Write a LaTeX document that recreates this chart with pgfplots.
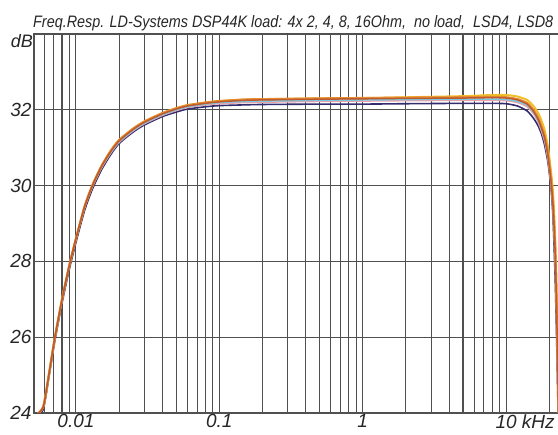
\documentclass[border=0pt]{standalone}
\usepackage{fontspec}
\setmainfont{Liberation Sans}
\usepackage{graphicx}
\usepackage{pgfplots}
\usepackage{pgfplotstable}
\pgfplotsset{compat=1.18}
\definecolor{cY}{RGB}{240,190,40}
\definecolor{cO}{RGB}{230,140,50}
\definecolor{cB}{RGB}{190,90,45}
\definecolor{cC}{RGB}{120,200,225}
\definecolor{cP}{RGB}{235,160,170}
\definecolor{cN}{RGB}{50,45,110}
\definecolor{gridc}{RGB}{80,80,80}
\pgfplotstableread{
f O Y B C P N
0.0051 23.9 23.9 23.9 23.9 23.9 23.85
0.0059 24.15 24.15 24.15 24.15 24.15 24.08
0.0065 25.05 25.05 25.05 25.05 25.05 24.97
0.0071 25.95 25.95 25.95 25.95 25.95 25.86
0.008 27.0 27.0 27.0 27.0 27.0 26.9
0.009 27.9 27.9 27.9 27.9 27.9 27.8
0.010 28.6 28.6 28.6 28.6 28.6 28.5
0.0115 29.45 29.45 29.45 29.45 29.43 29.35
0.013 30.0 30.0 29.99 29.98 29.96 29.9
0.015 30.5 30.5 30.49 30.47 30.45 30.4
0.0175 30.92 30.92 30.90 30.88 30.86 30.82
0.020 31.2 31.2 31.18 31.16 31.14 31.11
0.025 31.5 31.5 31.48 31.46 31.44 31.41
0.030 31.69 31.69 31.67 31.65 31.63 31.60
0.040 31.91 31.91 31.89 31.87 31.85 31.82
0.050 32.04 32.04 32.02 32.00 31.98 31.94
0.060 32.12 32.12 32.10 32.08 32.06 32.02
0.080 32.19 32.19 32.17 32.15 32.13 32.08
0.100 32.23 32.23 32.21 32.19 32.16 32.11
0.150 32.27 32.27 32.25 32.22 32.19 32.13
0.200 32.28 32.28 32.26 32.23 32.20 32.14
0.500 32.30 32.30 32.28 32.25 32.22 32.15
1 32.31 32.31 32.29 32.26 32.23 32.15
2 32.32 32.33 32.30 32.27 32.24 32.16
5 32.33 32.36 32.31 32.28 32.25 32.17
8 32.34 32.39 32.32 32.28 32.25 32.17
10 32.33 32.39 32.31 32.27 32.24 32.16
12 32.28 32.35 32.26 32.22 32.19 32.10
14 32.18 32.26 32.15 32.12 32.08 31.97
15.5 32.00 32.10 31.96 31.94 31.90 31.78
16.7 31.80 31.92 31.75 31.73 31.68 31.58
17.7 31.55 31.70 31.50 31.48 31.42 31.35
18.6 31.30 31.45 31.24 31.22 31.15 31.05
19.6 30.85 31.00 30.78 30.75 30.68 30.60
20.6 30.15 30.35 30.08 30.05 29.98 29.90
21.2 29.60 29.85 29.50 29.45 29.40 29.20
21.6 29.00 29.30 28.90 28.85 28.75 28.40
22.0 28.30 28.60 28.20 28.10 28.00 27.50
22.4 27.20 27.60 27.10 27.00 26.90 26.30
22.8 25.70 26.20 25.60 25.50 25.40 24.90
23.2 24.00 24.60 23.90 23.80 23.70 23.40
23.6 22.5 23.0 22.4 22.3 22.2 21.9
}\datatable
\begin{document}
\begin{tikzpicture}
\useasboundingbox (-34pt,-22pt) rectangle (524pt,413pt);
\begin{axis}[
  at={(0,0)}, anchor=south west,
  scale only axis,
  width=529.2pt, height=379pt,
  xmode=log,
  xmin=0.0051, xmax=25,
  ymin=24, ymax=34,
  xtick={0.01,0.1,1,10},
  xticklabels={0.01,0.1,1,10\rlap{\ kHz}},
  minor xtick={0.006,0.007,0.008,0.009,0.02,0.03,0.04,0.05,0.06,0.07,0.08,0.09,0.2,0.3,0.4,0.5,0.6,0.7,0.8,0.9,2,3,4,5,6,7,8,9,20},
  ytick={24,26,28,30,32},
  yticklabels={24,26,28,30,32},
  major tick length=0pt, minor tick length=0pt,
  xmajorgrids, xminorgrids, ymajorgrids,
  grid style={draw=gridc, line width=1.1pt},
  minor grid style={draw=gridc, line width=1.1pt},
  axis line style={draw=gridc, line width=1.3pt},
  tick label style={font=\fontsize{19}{19}\selectfont\itshape, text=black!85},
  xticklabel style={yshift=2pt},
  yticklabel style={xshift=1pt},
  every axis plot/.append style={no markers, line join=round, smooth, tension=0.4},
]
\addplot[cN, line width=1.6pt] table[x=f, y=N] {\datatable};
\addplot[cP, line width=1.5pt] table[x=f, y=P] {\datatable};
\addplot[cC, line width=1.6pt] table[x=f, y=C] {\datatable};
\addplot[cY, line width=2.0pt] table[x=f, y=Y] {\datatable};
\addplot[cO, line width=2.2pt] table[x=f, y=O] {\datatable};
\addplot[cB, line width=1.5pt] table[x=f, y=B] {\datatable};
\end{axis}
\node[anchor=north east, inner sep=0pt, font=\fontsize{18}{18}\selectfont\itshape, text=black!85] at (-1pt,379pt) {dB};
\node[anchor=base west, inner sep=0pt, text=black!85] at (-1pt,385pt) {\resizebox{520pt}{12pt}{\itshape Freq.Resp. LD-Systems DSP44K load: 4x 2, 4, 8, 16Ohm,\ \ no load,\ \ LSD4, LSD8}};
\end{tikzpicture}
\end{document}
